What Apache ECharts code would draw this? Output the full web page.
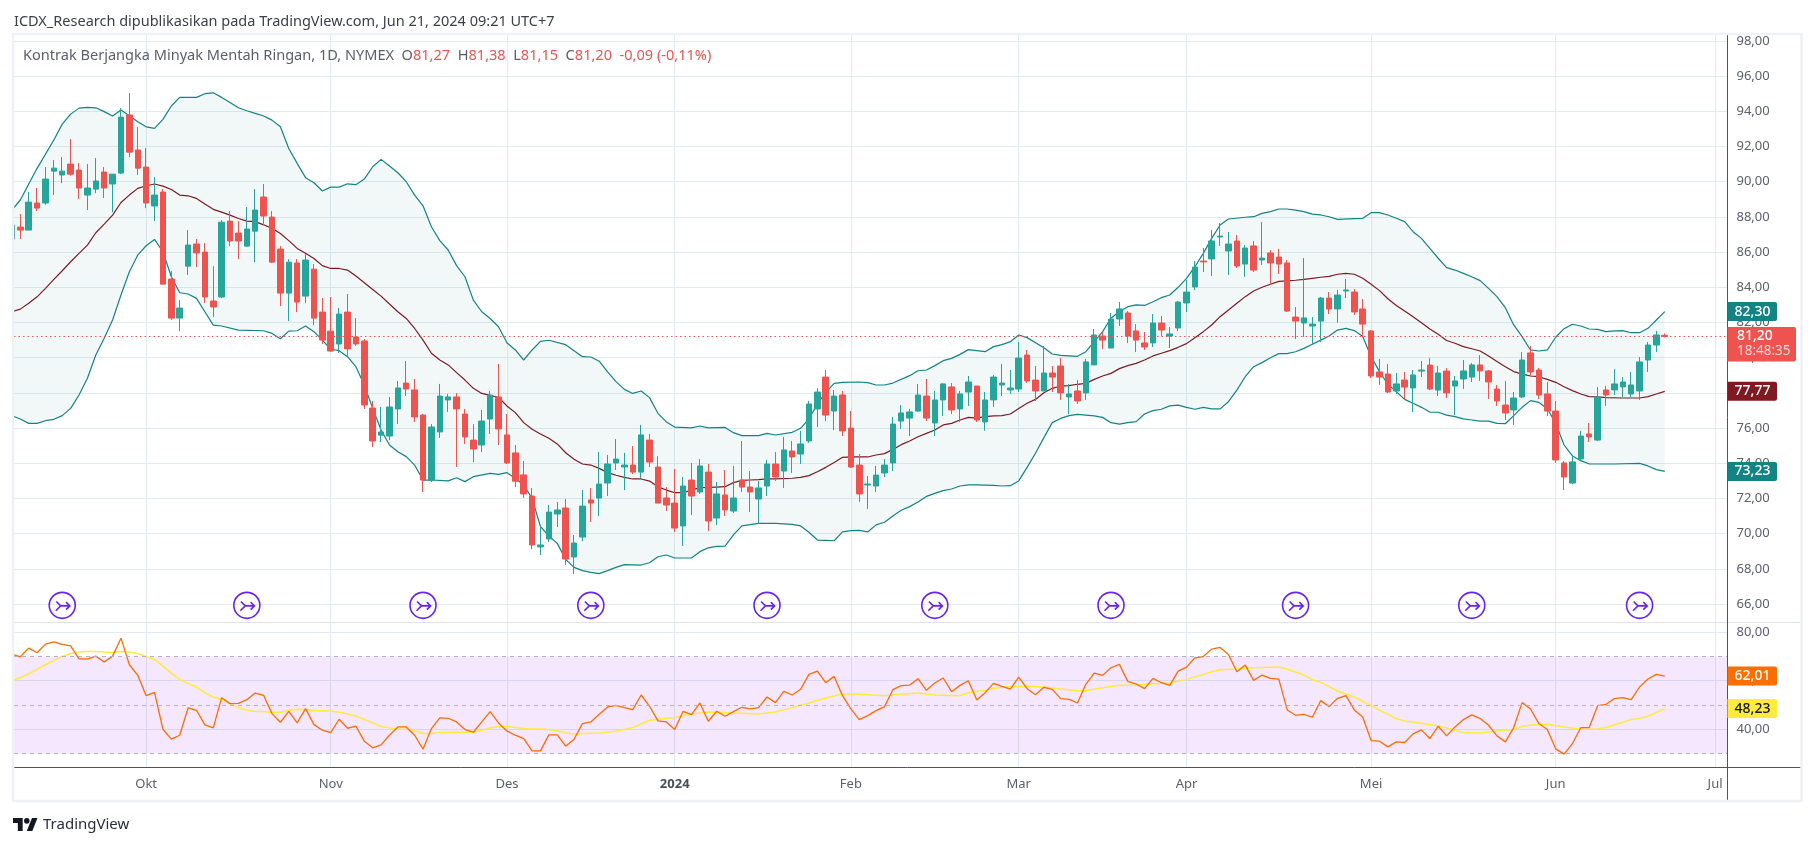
<!DOCTYPE html>
<html><head><meta charset="utf-8">
<style>html,body{margin:0;padding:0;background:#fff}#c{width:1815px;height:846px}</style>
<script src="https://cdn.jsdelivr.net/npm/echarts@6/dist/echarts.min.js"></script>
</head><body><div id="c"></div>
<script>
const opens=[86.74,87.42,87.25,88.79,88.79,90.60,90.38,91.00,90.66,89.24,
89.58,90.55,89.87,90.49,93.79,91.80,90.83,88.62,89.41,84.47,
82.25,85.20,86.46,86.00,83.22,83.45,87.76,87.08,86.34,87.19,
89.13,87.99,86.17,83.67,85.38,83.50,85.03,82.59,81.51,80.78,
82.59,81.17,80.95,77.14,75.60,75.55,77.09,78.56,78.17,76.74,
73.05,75.78,77.60,77.77,76.80,75.32,75.04,76.52,77.77,75.61,
74.59,73.34,72.14,69.25,69.70,71.12,71.46,68.68,69.81,71.92,
72.03,72.88,74.02,73.79,73.90,73.50,75.32,73.79,72.03,71.74,
70.44,73.05,72.37,73.50,70.89,72.20,71.29,73.05,72.65,71.97,
72.71,73.96,73.56,74.70,74.53,75.27,77.09,78.90,76.97,77.88,
76.00,73.90,72.77,72.71,73.45,74.02,76.40,76.57,76.97,77.82,
76.29,77.60,78.34,77.09,78.05,78.39,76.35,77.60,78.45,78.17,
78.22,80.15,78.73,78.11,79.13,79.53,77.77,78.11,78.00,79.59,
81.23,80.55,82.20,82.54,81.52,80.84,80.84,81.97,81.23,81.69,
83.11,84.02,85.49,85.61,86.86,86.06,86.63,85.32,86.35,85.55,
85.95,85.72,85.38,82.31,81.97,81.80,82.08,83.39,82.77,83.79,
83.73,82.77,81.52,79.19,79.07,78.11,78.73,78.28,79.24,79.58,
78.16,79.24,78.39,78.79,78.90,79.59,79.25,78.22,77.31,77.03,
77.77,80.27,79.30,77.94,76.97,74.02,72.88,74.25,75.67,75.32,
78.17,78.17,78.34,77.94,78.11,79.87,80.72,81.27];
const closes=[87.54,87.25,88.84,88.50,90.15,90.77,90.60,90.43,89.64,89.64,
90.04,89.64,90.43,93.67,91.68,90.77,88.79,89.24,84.18,82.25,
82.82,86.40,85.95,83.45,82.88,87.70,86.63,86.63,87.31,88.39,
88.05,85.43,83.67,85.43,83.16,85.55,82.25,81.00,80.38,82.48,
80.50,80.78,77.31,75.27,75.78,77.20,78.28,78.22,76.63,73.05,
76.06,77.82,77.77,77.09,75.50,74.81,76.40,77.88,75.95,74.02,
72.98,72.26,69.36,69.36,71.23,71.35,68.56,69.47,71.57,71.74,
72.82,73.96,74.24,73.90,73.50,75.61,74.07,71.74,71.63,70.32,
72.71,72.14,73.85,70.72,72.26,71.35,72.03,72.65,72.37,72.60,
73.96,73.22,74.76,74.36,75.10,77.37,78.05,76.74,77.82,75.84,
73.79,72.26,72.82,73.33,73.90,76.23,76.86,76.92,77.88,76.57,
77.60,78.51,77.03,77.94,78.62,76.46,77.60,78.90,78.56,78.28,
79.98,78.68,78.11,79.13,78.90,78.00,77.94,77.54,79.76,81.29,
81.00,82.20,82.77,81.23,81.00,80.61,81.97,81.57,81.35,83.16,
83.73,85.15,85.44,86.63,86.91,86.46,85.21,86.23,84.98,85.66,
85.38,85.32,82.65,82.08,82.26,81.91,83.39,82.77,83.56,83.85,
82.60,81.91,78.96,78.90,78.05,78.51,78.33,79.02,79.30,78.22,
79.13,78.00,78.68,79.25,79.59,79.25,78.62,77.54,76.86,77.71,
79.87,79.19,77.88,76.97,74.19,73.22,74.08,75.55,75.50,77.77,
77.88,78.51,78.62,78.45,79.76,80.72,81.29,81.20];
const lows=[86.70,86.74,87.25,88.33,88.69,89.24,89.92,90.34,89.01,88.39,
89.35,89.07,88.27,90.43,91.40,90.38,88.50,87.76,84.18,82.14,
81.51,84.70,85.15,83.10,82.31,83.39,86.34,85.60,86.29,85.43,
87.54,85.38,82.93,82.08,82.59,83.10,81.85,80.78,80.32,80.27,
80.10,80.67,77.09,74.93,75.21,75.32,76.23,77.82,76.35,72.37,
72.94,75.44,76.92,73.79,75.10,74.07,74.64,75.67,75.04,73.96,
72.65,72.03,69.13,68.79,69.53,70.38,68.22,67.71,69.58,70.67,
71.00,72.14,73.62,72.48,73.39,73.17,73.79,71.74,71.29,70.10,
69.30,71.06,72.26,70.15,70.49,71.00,71.18,72.37,71.23,70.55,
72.14,72.99,72.60,73.45,73.96,75.16,76.06,76.40,75.89,75.55,
73.73,71.80,71.40,72.37,73.22,73.56,75.95,75.55,76.92,76.40,
75.55,76.69,76.80,76.35,77.26,76.35,75.85,77.20,77.82,77.94,
78.05,78.56,77.54,78.11,78.05,77.60,76.80,77.37,77.60,79.59,
80.49,80.55,81.80,80.83,80.32,80.44,80.61,81.23,80.55,81.52,
82.60,83.85,84.87,84.64,86.35,84.70,85.10,84.60,84.87,85.27,
84.13,84.76,82.60,81.06,81.18,80.72,80.89,82.48,81.99,83.39,
82.43,81.18,78.85,78.45,77.99,77.94,77.60,76.91,78.90,78.16,
77.82,77.71,76.74,78.22,78.62,78.68,77.65,77.26,76.46,76.18,
77.71,78.96,77.65,76.69,74.02,72.48,72.82,74.19,75.21,75.27,
77.26,77.88,77.77,77.77,77.60,79.19,80.32,81.15];
const highs=[87.60,88.16,89.41,89.64,90.83,91.23,91.40,92.42,91.06,91.00,
91.34,90.83,90.43,94.18,95.04,93.10,91.91,90.26,89.58,84.92,
83.27,87.25,86.74,86.51,85.20,87.82,88.33,87.76,88.56,89.58,
89.87,88.33,86.34,85.60,85.60,85.89,85.32,83.39,83.45,82.82,
83.62,82.25,81.06,77.54,77.20,77.77,78.68,79.81,78.79,76.80,
76.23,78.51,77.94,77.99,77.09,76.23,77.03,78.11,79.64,76.80,
75.04,74.13,72.60,70.49,71.63,71.80,71.97,69.93,72.48,72.60,
74.64,74.47,75.38,74.59,74.98,76.18,75.67,74.41,72.65,73.68,
73.22,74.02,74.24,73.96,72.94,73.62,73.85,75.27,73.56,72.99,
74.19,74.64,75.50,75.27,75.84,77.54,78.28,79.30,78.17,78.11,
76.97,74.53,73.28,73.85,74.24,76.63,77.31,77.09,78.51,78.79,
78.11,78.56,78.56,78.11,78.96,78.39,78.05,79.02,79.64,79.30,
80.89,80.44,79.53,80.66,79.53,79.98,78.51,78.73,79.93,81.63,
81.46,82.54,83.16,82.65,81.91,81.46,82.48,82.37,81.74,83.22,
84.41,85.49,86.23,87.26,87.65,87.14,86.97,86.40,86.63,87.71,
86.12,86.18,85.55,82.88,85.66,82.31,83.45,83.73,83.85,84.47,
83.90,83.33,81.57,79.93,79.64,79.13,79.19,79.30,79.81,79.98,
79.53,79.41,78.96,79.87,79.70,80.15,79.30,78.45,78.68,78.05,
80.32,80.67,79.42,78.62,77.54,74.13,74.42,75.84,76.29,78.33,
78.39,79.35,78.90,79.19,80.04,80.89,81.52,81.38];

const bbUpper=[[0,88.39],[1,88.96],[3,90.76],[5,92.37],[6,93.27],[7,93.84],[8,94.18],[9,94.22],[10,94.2],[11,93.98],[12,93.73],[13,94.07],[14,93.75],[15,93.41],[16,93.12],[17,93.03],[18,93.54],[19,94.3],[20,94.79],[22,94.79],[23,95.0],[24,95.05],[25,94.79],[26,94.5],[27,94.2],[28,94.03],[29,93.88],[30,93.73],[31,93.5],[32,93.12],[33,91.89],[34,91.04],[35,90.23],[36,89.94],[37,89.47],[38,89.69],[39,89.69],[40,89.88],[41,89.83],[42,90.15],[43,90.85],[44,91.27],[45,90.89],[46,90.51],[47,90],[48,89.24],[49,88.63],[50,87.44],[51,86.65],[52,86.12],[53,85.23],[54,84.6],[55,83.27],[56,82.61],[57,82.23],[58,81.76],
[59,80.85],[60,80.44],[61,79.87],[62,80.44],[63,80.93],[64,80.99],[66,80.74],[68,80.06],[69,80.04],[70,79.8],[71,79.2],[72,78.64],[73,78.2],[74,77.97],[75,78.11],[76,77.73],[77,76.84],[78,76.35],[79,76.06],[81,76.01],[82,76.12],[83,76.01],[85,76.04],[86,75.74],[87,75.57],[89,75.57],[90,75.7],[91,75.61],[93,75.76],[94,75.99],[95,76.52],[96,77.37],[97,78.03],[98,78.54],[99,78.6],[101,78.62],[102,78.58],[103,78.45],[104,78.45],[105,78.56],[107,78.98],[108,79.26],[109,79.3],[110,79.55],[111,79.83],[112,79.96],[113,80.19],[114,80.46],[115,80.4],
[116,80.34],[117,80.63],[118,80.74],[119,80.91],[120,81.29],[121,81.14],[123,80.57],[124,80.21],[125,80.13],[127,80.08],[128,80.34],[129,80.91],[130,81.48],[131,82.24],[132,82.62],[133,82.9],[134,83.0],[135,82.97],[136,83.18],[137,83.41],[138,83.56],[139,84.0],[140,84.51],[141,85.17],[142,85.93],[143,86.78],[144,87.54],[145,87.88],[147,87.98],[148,88.01],[149,88.2],[150,88.3],[151,88.45],[152,88.45],[153,88.39],[154,88.3],[155,88.16],[156,88.11],[157,88.01],[158,87.86],[160,87.9],[161,87.92],[162,88.24],[163,88.24],[164,88.11],[165,87.92],[166,87.73],[167,87.16],[168,86.78],[169,86.21],[170,85.65],[171,85.12],
[172,84.98],[173,84.79],[174,84.6],[175,84.38],[176,83.94],[177,83.47],[178,82.84],[179,81.86],[180,81.2],[181,80.44],[182,80.38],[183,80.44],[184,81.16],[185,81.65],[186,81.9],[187,81.8],[188,81.63],[189,81.61],[190,81.48],[191,81.52],[192,81.54],[193,81.42],[194,81.42],[195,81.67],[196,82.14],[197,82.62]];
const bbBasis=[[0,82.61],[1,82.76],[2,83.09],[3,83.46],[4,83.94],[5,84.45],[6,84.94],[7,85.45],[8,85.93],[9,86.4],[10,87.1],[11,87.59],[12,88.1],[13,88.82],[14,89.24],[15,89.62],[16,89.77],[17,89.87],[18,89.75],[19,89.56],[20,89.24],[21,89.2],[22,89.05],[23,88.73],[24,88.43],[25,88.27],[26,88.1],[27,87.91],[28,87.76],[29,87.73],[30,87.55],[31,87.35],[32,87.06],[33,86.65],[34,86.21],[35,85.93],[36,85.64],[37,85.23],[38,85.07],[39,85.07],[40,84.98],[41,84.64],[42,84.26],[43,83.88],[44,83.5],[45,83.05],[46,82.61],[47,82.23],[48,81.66],[49,81.0],[50,80.25],[51,79.87],[52,79.59],[53,79.15],[54,78.73],[55,78.26],[56,77.97],[57,77.86],[58,77.74],
[59,77.26],[60,76.88],[61,76.31],[62,75.93],[63,75.67],[64,75.42],[65,75.1],[66,74.6],[67,74.23],[68,73.96],[69,73.9],[70,73.71],[71,73.47],[72,73.32],[73,73.2],[74,73.11],[75,73.11],[76,72.99],[77,72.67],[78,72.48],[79,72.33],[80,72.33],[81,72.48],[82,72.62],[83,72.63],[84,72.65],[85,72.67],[86,72.9],[87,73.03],[88,73.05],[89,73.07],[90,73.11],[91,73.11],[93,73.15],[94,73.2],[95,73.3],[96,73.52],[97,73.77],[98,74.05],[99,74.34],[100,74.37],[102,74.36],[103,74.47],[104,74.55],[105,74.79],[106,75.06],[107,75.27],[108,75.51],[109,75.7],[110,75.89],[111,76.18],[112,76.27],[113,76.46],[114,76.61],[115,76.57],
[116,76.65],[117,76.69],[118,76.71],[119,76.8],[120,77.12],[121,77.41],[122,77.63],[123,78.01],[124,78.26],[125,78.39],[126,78.41],[127,78.49],[128,78.54],[129,78.77],[130,78.96],[131,79.11],[132,79.38],[133,79.55],[134,79.68],[135,79.87],[136,80.1],[137,80.25],[138,80.4],[139,80.59],[140,80.8],[141,81.14],[142,81.48],[143,81.86],[144,82.33],[145,82.71],[146,83.09],[147,83.47],[148,83.79],[149,84.0],[150,84.17],[151,84.34],[152,84.36],[153,84.4],[154,84.45],[155,84.51],[156,84.57],[157,84.62],[158,84.74],[159,84.79],[160,84.74],[161,84.51],[162,84.17],[163,83.81],[164,83.35],[165,82.97],[166,82.65],[167,82.33],[168,81.99],[169,81.63],[170,81.33],[171,80.98],
[172,80.82],[173,80.63],[174,80.51],[175,80.38],[176,80.1],[177,79.78],[178,79.49],[179,79.21],[180,79.07],[181,78.96],[182,78.92],[183,78.77],[184,78.6],[185,78.35],[186,78.13],[187,77.94],[188,77.79],[189,77.77],[190,77.73],[192,77.71],[194,77.71],[195,77.79],[196,77.94],[197,78.09]];
const bbLower=[[0,76.71],[1,76.52],[2,76.27],[3,76.27],[4,76.42],[5,76.5],[6,76.71],[7,77.12],[8,77.88],[9,78.83],[10,80.15],[11,81.1],[12,82.14],[13,83.56],[14,84.88],[15,85.83],[16,86.36],[17,86.72],[18,86.02],[19,84.6],[20,83.69],[21,83.62],[22,83.37],[23,82.61],[24,81.85],[25,81.8],[27,81.57],[30,81.53],[31,81.38],[32,81.08],[33,81.51],[34,81.53],[35,81.8],[36,81.48],[37,81.0],[38,80.48],[39,80.4],[40,80.06],[41,79.49],[42,78.45],[43,77.12],[44,75.89],[45,75.04],[46,74.66],[47,74.38],[48,73.9],[49,73.05],[50,73.05],[52,73.0],[53,73.18],[54,72.96],[55,73.24],[57,73.43],[58,73.37],
[59,73.47],[60,73.15],[61,72.77],[62,72.01],[63,70.4],[64,69.87],[65,69.45],[66,68.54],[67,68.09],[68,67.9],[69,67.8],[70,67.73],[71,67.9],[72,68.09],[73,68.24],[75,68.22],[76,68.35],[77,68.69],[78,68.79],[79,68.62],[81,68.62],[82,68.98],[83,69.2],[84,69.28],[85,69.3],[86,69.93],[87,70.44],[89,70.59],[91,70.59],[93,70.53],[94,70.44],[95,70.08],[96,69.64],[97,69.62],[98,69.6],[99,70.1],[100,70.17],[101,70.19],[102,70.1],[103,70.5],[104,70.65],[105,71.0],[106,71.33],[107,71.54],[108,71.8],[109,72.12],[110,72.29],[111,72.45],[112,72.54],[113,72.71],[114,72.77],[115,72.78],
[117,72.75],[118,72.71],[119,72.73],[120,73.0],[121,73.77],[122,74.57],[123,75.46],[124,76.31],[125,76.55],[126,76.71],[127,76.78],[128,76.74],[129,76.69],[130,76.61],[131,76.31],[132,76.23],[133,76.31],[134,76.37],[135,76.8],[136,76.99],[137,77.07],[138,77.26],[139,77.31],[140,77.18],[141,77.07],[142,77.18],[143,77.09],[144,77.09],[145,77.5],[146,78.16],[147,78.92],[148,79.49],[149,79.72],[150,80.0],[151,80.23],[152,80.23],[153,80.34],[154,80.53],[155,80.76],[156,81.0],[157,81.23],[158,81.57],[159,81.67],[160,81.54],[161,81.2],[162,80.06],[163,79.21],[164,78.49],[165,78.07],[166,77.63],[167,77.41],[168,77.18],[169,76.91],[170,76.9],[171,76.74],
[172,76.65],[173,76.52],[174,76.46],[175,76.4],[176,76.4],[177,76.27],[178,76.25],[179,76.71],[180,77.18],[181,77.56],[182,77.46],[183,77.12],[184,76.27],[185,75.04],[186,74.42],[187,74.15],[188,73.96],[191,73.96],[194,74.0],[195,73.85],[196,73.64],[197,73.54]];

const rsi=[70.99,69.89,73.46,71.54,75.11,76.07,74.97,74.42,69.06,68.93,70.16,67.69,70.16,77.58,66.59,62.2,53.82,55.19,39.94,35.82,37.47,48.73,47.77,41.73,40.49,52.99,50.52,50.66,52.17,54.91,53.95,46.4,42.83,47.36,42.55,48.46,41.86,39.53,38.57,44.06,40.35,41.18,35.0,32.25,33.49,37.47,40.9,40.9,37.47,31.7,40.22,44.61,44.47,42.96,39.8,38.7,42.96,47.22,42.55,39.25,37.47,36.09,31.01,31.01,37.6,37.6,32.94,35.82,42.28,42.96,46.12,
49.14,49.83,48.87,48.05,54.09,49.42,43.38,42.96,39.8,47.36,45.99,50.79,43.24,47.36,45.3,47.22,49.01,48.32,48.87,53.27,50.93,55.6,54.09,56.43,62.61,63.98,59.17,61.78,53.82,48.32,43.93,45.57,47.63,49.28,56.29,57.94,58.21,60.82,56.01,59.04,61.1,55.46,58.07,60.0,52.03,55.05,58.9,57.66,56.56,61.51,56.7,54.23,57.25,56.43,52.58,52.3,50.79,58.49,63.16,62.2,65.35,66.73,59.72,58.62,56.7,60.96,59.17,58.07,63.98,65.63,69.47,
70.0,73.05,73.73,70.85,63.71,66.45,60.14,62.33,60.96,60.68,47.91,45.71,46.12,44.89,51.76,49.28,52.72,53.82,47.91,45.02,35.27,35,32.66,34.72,34.45,38.02,39.67,36.09,41.18,37.19,40.9,43.93,45.85,44.34,41.59,37.19,34.72,40.63,50.93,48.32,42.28,39.8,31.84,29.64,34.03,40.63,40.63,49.69,50.24,52.58,52.99,52.17,57.39,60.68,62.61,61.92];
const rsiMa=[[0,59.86],[1,61.23],[2,62.88],[3,64.67],[4,66.59],[5,68.38],[6,70.03],[7,71.26],[8,71.81],[9,72.08],[10,72.08],[11,71.81],[12,71.67],[13,72.08],[14,71.81],[15,71.26],[16,69.89],[17,68.79],[18,66.04],[19,63.16],[20,60.55],[21,58.9],[22,57.39],[23,55.05],[24,53.27],[25,52.3],[26,50.52],[27,48.87],[28,47.77],[29,47.22],[30,47.22],[31,46.81],[32,46.95],[33,47.77],[34,48.18],[35,48.05],[36,47.63],[37,47.63],[38,47.5],[39,46.95],[40,46.26],[41,45.44],[42,44.06],[43,42.55],[44,41.04],[45,40.49],[46,40.08],[47,39.94],[48,39.25],[49,38.16],[50,38.16],[51,38.57],[52,38.7],[55,38.7],[56,39.53],[57,40.49],[58,41.04],[59,41.04],[60,40.63],[61,40.22],[62,40.08],[63,40.08],[64,39.8],[65,39.25],[66,38.43],[67,38.02],[68,38.16],[69,38.29],[70,38.43],
[72,39.12],[74,40.63],[76,43.65],[79,44.75],[81,46.26],[83,47.09],[86,46.67],[89,46.26],[91,47.09],[93,48.87],[95,50.79],[97,52.85],[99,54.64],[101,54.36],[104,53.82],[106,54.36],[108,54.91],[110,54.09],[113,53.82],[114,55.05],[116,56.01],[118,57.39],[121,57.66],[123,57.39],[125,56.56],[127,55.88],[128,55.88],[130,57.11],[132,58.07],[134,58.21],[136,58.76],[138,59.04],[140,60.55],[142,62.61],
[143,63.71],[144,64.53],[146,64.8],[148,65.35],[151,65.63],[152,64.8],[154,62.33],[155,60.41],[156,59.31],[158,55.74],[160,53.27],[162,49.69],[165,44.34],[166,43.38],[168,42.41],[170,41.32],[172,39.53],[173,38.57],[175,38.43],[177,39.25],[179,39.8],[180,41.04],[181,41.73],[183,42.0],[185,40.9],[187,39.94],[189,40.08],[190,40.63],[192,42.83],[193,43.93],[194,44.34],[195,45.3],[197,48.46]];

const monthBars=[16,38,59,79,100,120,140,162,184,203];
const monthLabels=['Okt','Nov','Des','2024','Feb','Mar','Apr','Mei','Jun','Jul'];
const priceTicks=[66,68,70,72,74,76,78,80,82,84,86,88,90,92,94,96,98];
const rsiTicks=[40,60,80];
const rsiLevels=[70,50,30];
const rollBars=[6,28,49,69,90,110,131,153,174,194];
const rollY=65.93;
const lastPrice=81.20;

const chart=echarts.init(document.getElementById('c'),null,{renderer:'canvas'});
const FONT='"Noto Sans",sans-serif';
const GRID='#e1ecf2';
const comma=v=>v.toFixed(2).replace('.',',');
const candles=opens.map((o,i)=>[i,o,closes[i],lows[i],highs[i]]);
const xCommon={type:'value',min:0.25,max:204.48,
  axisTick:{show:false,customValues:monthBars},
  splitLine:{show:true,lineStyle:{color:GRID,width:1}}};
const plain={showSymbol:false,symbol:'none',animation:false,silent:true};
const yLabel={margin:9,color:'#5d606b',fontFamily:FONT,fontSize:13,formatter:comma,padding:[0,0,5,0]};

const option={
  animation:false,
  backgroundColor:'#fff',
  title:[
    {left:14,top:14,padding:0,text:'ICDX_Research dipublikasikan pada TradingView.com, Jun 21, 2024 09:21 UTC+7',
     textStyle:{fontFamily:FONT,fontSize:14.5,fontWeight:400,color:'#3c3f49'}},
    {left:23,top:48,padding:0,text:'{g|Kontrak Berjangka Minyak Mentah Ringan, 1D, NYMEX  O}{r|81,27}{g|  H}{r|81,38}{g|  L}{r|81,15}{g|  C}{r|81,20  -0,09 (-0,11%)}',
     textStyle:{fontWeight:400,rich:{g:{fontFamily:FONT,fontSize:14.55,fontWeight:400,color:'#5d606b'},r:{fontFamily:FONT,fontSize:14.55,fontWeight:400,color:'#ef5350'}}}},
    {left:43,top:817,padding:0,text:'TradingView',textStyle:{fontFamily:FONT,fontSize:15,fontWeight:400,color:'#2a2e39'}}
  ],
  grid:[
    {left:14,top:35,width:1713.5,height:587.5,containLabel:false},
    {left:14,top:622.5,width:1713.5,height:144.8,containLabel:false}
  ],
  xAxis:[
    Object.assign({gridIndex:0,axisLine:{show:false},axisLabel:{show:false,customValues:monthBars}},xCommon),
    Object.assign({gridIndex:1,axisLine:{show:false},
      axisLabel:{show:true,customValues:monthBars,margin:10,color:'#5d606b',fontFamily:FONT,fontSize:13,
        formatter:v=>{const s=monthLabels[monthBars.indexOf(Math.round(v))];return s==='2024'?'{b|2024}':s;},
        rich:{b:{fontFamily:FONT,fontSize:13,fontWeight:700,color:'#4a4d57'}}}},xCommon)
  ],
  yAxis:[
    {type:'value',gridIndex:0,position:'right',min:64.955,max:98.335,
     axisLine:{show:false},axisTick:{show:false,customValues:priceTicks},
     axisLabel:Object.assign({customValues:priceTicks},yLabel),
     splitLine:{show:true,lineStyle:{color:GRID,width:1}}},
    {type:'value',gridIndex:1,position:'right',min:24.21,max:84.05,
     axisLine:{show:false},axisTick:{show:false,customValues:rsiTicks},
     axisLabel:Object.assign({customValues:rsiTicks},yLabel),
     splitLine:{show:true,lineStyle:{color:GRID,width:1}}}
  ],
  series:[
    {name:'BB band',type:'custom',xAxisIndex:0,yAxisIndex:0,clip:true,z:1,silent:true,data:[[0,80]],
     renderItem:(params,api)=>{
       const pts=bbUpper.concat(bbLower.slice().reverse()).map(p=>api.coord(p));
       return {type:'polygon',shape:{points:pts},style:{fill:'rgba(0,110,110,0.05)'}};
     }},
    Object.assign({name:'BB upper',type:'line',xAxisIndex:0,yAxisIndex:0,z:2,data:bbUpper,lineStyle:{color:'#138484',width:1.2},
      markLine:{silent:true,symbol:'none',label:{show:false},animation:false,
        lineStyle:{color:'#ef5350',type:[1.5,3],width:1},data:[{yAxis:lastPrice}]}},plain),
    Object.assign({name:'BB lower',type:'line',xAxisIndex:0,yAxisIndex:0,z:2,data:bbLower,lineStyle:{color:'#138484',width:1.2}},plain),
    Object.assign({name:'BB basis',type:'line',xAxisIndex:0,yAxisIndex:0,z:2,data:bbBasis,lineStyle:{color:'#801922',width:1.2}},plain),
    {name:'Harga',type:'candlestick',xAxisIndex:0,yAxisIndex:0,z:3,barWidth:6,data:candles,silent:true,animation:false,
     itemStyle:{color:'#26a69a',color0:'#ef5350',borderColor:'#26a69a',borderColor0:'#ef5350',borderWidth:1}},
    {name:'Rollover',type:'scatter',xAxisIndex:0,yAxisIndex:0,z:4,silent:true,
     data:rollBars.map(b=>[b,rollY]),symbolSize:26,
     symbol:'path://M13 1A12 12 0 1 1 12.99 1ZM7.5 9.5L11.5 13.5L20 13.5M16.5 10L20 13.5L16.5 17M11.5 13.5L7 18',
     itemStyle:{color:'transparent',borderColor:'#6a23f5',borderWidth:1.6,opacity:1}},
    Object.assign({name:'RSI MA',type:'line',xAxisIndex:1,yAxisIndex:1,z:3,data:rsiMa,lineStyle:{color:'#ffeb3b',width:1.5},
      markArea:{silent:true,animation:false,itemStyle:{color:'rgba(155,39,245,0.11)'},data:[[{yAxis:rsiLevels[0]},{yAxis:rsiLevels[2]}]]},
      markLine:{silent:true,symbol:'none',label:{show:false},animation:false,
        lineStyle:{color:'#b5b0bc',type:[4,4],width:1},data:rsiLevels.map(v=>({yAxis:v}))}},plain),
    Object.assign({name:'RSI',type:'line',xAxisIndex:1,yAxisIndex:1,z:4,data:rsi.map((v,i)=>[i,v]),lineStyle:{color:'#ff6d00',width:1.3}},plain)
  ]
};
chart.setOption(option);

// Frame, separators and value badges (badge heights come from the axes)
const px=(axis,v)=>chart.convertToPixel({yAxisIndex:axis},v);
const AX=1727.5;
function badge(axis,v,txt,bg,fg){
  const y=px(axis,v);
  return [{type:'rect',z:50,shape:{x:AX,y:y-9.5,width:49.5,height:19,r:[0,2,2,0]},style:{fill:bg}},
    {type:'text',z:51,x:AX+25,y:y,style:{text:txt,fill:fg,font:'500 14px '+FONT,textAlign:'center',textVerticalAlign:'middle'}}];
}
const py=px(0,lastPrice);
const els=[
 {type:'rect',z:39,shape:{x:0,y:34,width:13,height:768},style:{fill:'#fff'}},
 {type:'line',z:40,shape:{x1:14,y1:622.5,x2:1801,y2:622.5},style:{stroke:'#e0e3eb',lineWidth:1}},
 {type:'line',z:40,shape:{x1:14,y1:767.5,x2:1801,y2:767.5},style:{stroke:'#50535e',lineWidth:1}},
 {type:'line',z:40,shape:{x1:AX,y1:35,x2:AX,y2:800},style:{stroke:'#50535e',lineWidth:1}},
 {type:'rect',z:41,shape:{x:13,y:34,width:1788.5,height:767},style:{fill:'none',stroke:'#f0f1f5',lineWidth:2.5}},
 {type:'group',z:41,x:13,y:815.1,scaleX:0.69,scaleY:0.72,children:[
   {type:'polygon',shape:{points:[[14,22],[7,22],[7,11],[0,11],[0,4],[14,4]]},style:{fill:'#131722'}},
   {type:'polygon',shape:{points:[[28,22],[20,22],[27.5,4],[35.5,4]]},style:{fill:'#131722'}},
   {type:'circle',shape:{cx:20,cy:8,r:4},style:{fill:'#131722'}}
 ]},
 ...badge(0,bbUpper[bbUpper.length-1][1],'82,30','#138484','#fff'),
 ...badge(0,bbBasis[bbBasis.length-1][1],'77,77','#801922','#fff'),
 ...badge(0,bbLower[bbLower.length-1][1],'73,23','#138484','#fff'),
 {type:'rect',z:52,shape:{x:AX,y:py-9.7,width:68.5,height:34.7,r:[0,2,2,0]},style:{fill:'#ef5350'}},
 {type:'text',z:53,x:AX+9.5,y:py-1,style:{text:'81,20',fill:'#fff',font:'500 14px '+FONT,textVerticalAlign:'middle'}},
 {type:'text',z:53,x:AX+9.5,y:py+15,style:{text:'18:48:35',fill:'#ffd3d2',font:'13.5px '+FONT,textVerticalAlign:'middle'}},
 ...badge(1,rsi[rsi.length-1],'62,01','#ff6d00','#fff'),
 ...badge(1,rsiMa[rsiMa.length-1][1],'48,23','#ffeb3b','#131722')
];
chart.setOption({graphic:{elements:els}});
</script></body></html>
